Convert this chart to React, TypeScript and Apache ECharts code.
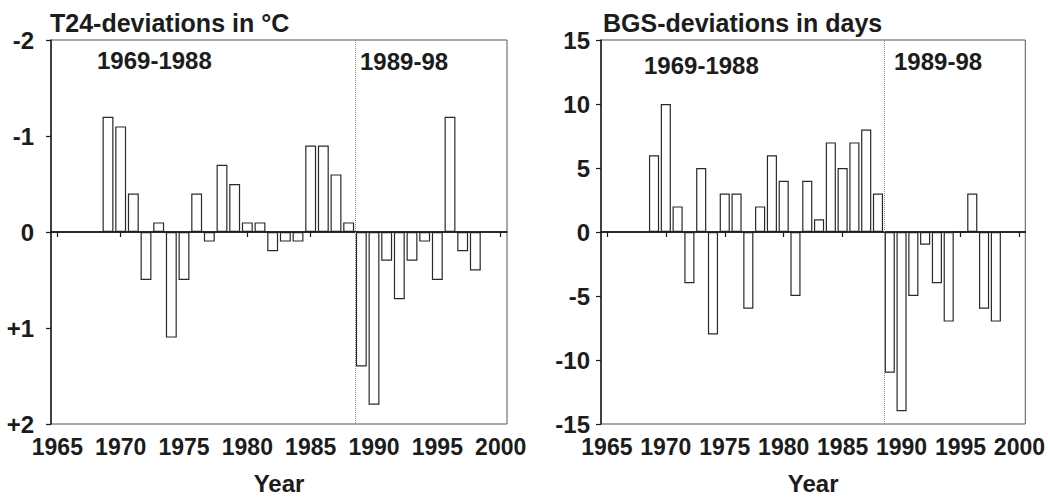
import React, { useEffect, useRef } from "react";
import * as echarts from "echarts";

const years = [1969, 1970, 1971, 1972, 1973, 1974, 1975, 1976, 1977, 1978, 1979, 1980, 1981, 1982, 1983, 1984, 1985, 1986, 1987, 1988, 1989, 1990, 1991, 1992, 1993, 1994, 1995, 1996, 1997, 1998];
const t24Dev = [-1.2, -1.1, -0.4, 0.5, -0.1, 1.1, 0.5, -0.4, 0.1, -0.7, -0.5, -0.1, -0.1, 0.2, 0.1, 0.1, -0.9, -0.9, -0.6, -0.1, 1.4, 1.8, 0.3, 0.7, 0.3, 0.1, 0.5, -1.2, 0.2, 0.4];
const bgsDev = [6, 10, 2, -4, 5, -8, 3, 3, -6, 2, 6, 4, -5, 4, 1, 7, 5, 7, 8, 3, -11, -14, -5, -1, -4, -7, 0, 3, -6, -7];
const xTicks = [1965, 1970, 1975, 1980, 1985, 1990, 1995, 2000];
const periodSplit = 1988.5;
const titles = ["T24-deviations in °C", "BGS-deviations in days"];
const periodLabels = ["1969-1988", "1989-98"];

const FONT = "'Liberation Sans', Arial, sans-serif";
const INK = "#1c1c1c";

export default function App() {
  const ref = useRef<HTMLDivElement>(null);
  useEffect(() => {
    if (!ref.current) return;
    const chart = echarts.init(ref.current, null, { renderer: "svg" });

    const xAxisBase = (gridIndex: number) => ({
      type: "value",
      gridIndex,
      min: 1964.5,
      max: 2000.5,
      splitLine: { show: false },
      axisLine: { show: true, lineStyle: { color: INK, width: 1.5 } },
      axisTick: { show: true, length: 5, lineStyle: { color: INK, width: 1.2 }, customValues: xTicks },
      axisLabel: {
        customValues: xTicks,
        formatter: (v: number) => String(v),
        color: INK,
        fontFamily: FONT,
        fontWeight: "bold",
        fontSize: 23,
        margin: 11,
      },
      name: "Year",
      nameLocation: "middle",
      nameGap: 47,
      nameTextStyle: { color: INK, fontFamily: FONT, fontWeight: "bold", fontSize: 24 },
    });

    const barSeries = (idx: number, vals: number[]) => ({
      type: "bar",
      xAxisIndex: idx,
      yAxisIndex: idx,
      data: years.map((y, i) => [y, vals[i]]),
      barWidth: "86%",
      itemStyle: { color: "#ffffff", borderColor: "#2a2a2a", borderWidth: 1.2 },
      silent: true,
      markLine: {
        silent: true,
        symbol: "none",
        label: { show: false },
        data: [
          { yAxis: 0, lineStyle: { color: INK, width: 1.5, type: "solid" } },
          { xAxis: periodSplit, lineStyle: { color: "#8a8a8a", width: 1, type: "dotted" } },
        ],
      },
    });

    const textEl = (text: string, x: number, y: number, size: number) => ({
      type: "text",
      x,
      y,
      style: {
        text,
        fill: INK,
        font: `bold ${size}px ${FONT}`,
        align: "left",
        verticalAlign: "middle",
      },
    });

    const yLabelBase = {
      color: INK,
      fontFamily: FONT,
      fontWeight: "bold",
      fontSize: 24,
    };

    chart.setOption({
      animation: false,
      backgroundColor: "#ffffff",
      textStyle: { fontFamily: FONT },
      grid: [
        { left: 51, top: 40, width: 456, height: 388, show: true, borderColor: "#555", borderWidth: 1, backgroundColor: "transparent" },
        { left: 601, top: 40, width: 425, height: 389, show: true, borderColor: "#555", borderWidth: 1, backgroundColor: "transparent" },
      ],
      xAxis: [xAxisBase(0), xAxisBase(1)],
      yAxis: [
        {
          type: "value",
          gridIndex: 0,
          inverse: true,
          min: -2,
          max: 2,
          interval: 1,
          splitLine: { show: false },
          axisLine: { show: true, lineStyle: { color: INK, width: 1.5 } },
          axisTick: { show: true, length: 5, lineStyle: { color: INK, width: 1.2 } },
          axisLabel: {
            ...yLabelBase,
            margin: 17,
            formatter: (v: number) => (v > 0 ? "+" + v : String(v)),
          },
        },
        {
          type: "value",
          gridIndex: 1,
          min: -15,
          max: 15,
          interval: 5,
          splitLine: { show: false },
          axisLine: { show: true, lineStyle: { color: INK, width: 1.5 } },
          axisTick: { show: true, length: 5, lineStyle: { color: INK, width: 1.2 } },
          axisLabel: {
            ...yLabelBase,
            margin: 11,
          },
        },
      ],
      series: [barSeries(0, t24Dev), barSeries(1, bgsDev)],
      graphic: [
        textEl(titles[0], 50, 23, 25),
        textEl(titles[1], 603, 23, 25),
        textEl(periodLabels[0], 97, 60, 24),
        textEl(periodLabels[1], 360, 61, 24),
        textEl(periodLabels[0], 644, 65, 24),
        textEl(periodLabels[1], 894, 61, 24),
      ],
    });
    return () => chart.dispose();
  }, []);
  return (
    <div
      ref={ref}
      style={{ position: "fixed", left: 0, top: 0, width: 1048, height: 500, background: "#fff" }}
    />
  );
}
